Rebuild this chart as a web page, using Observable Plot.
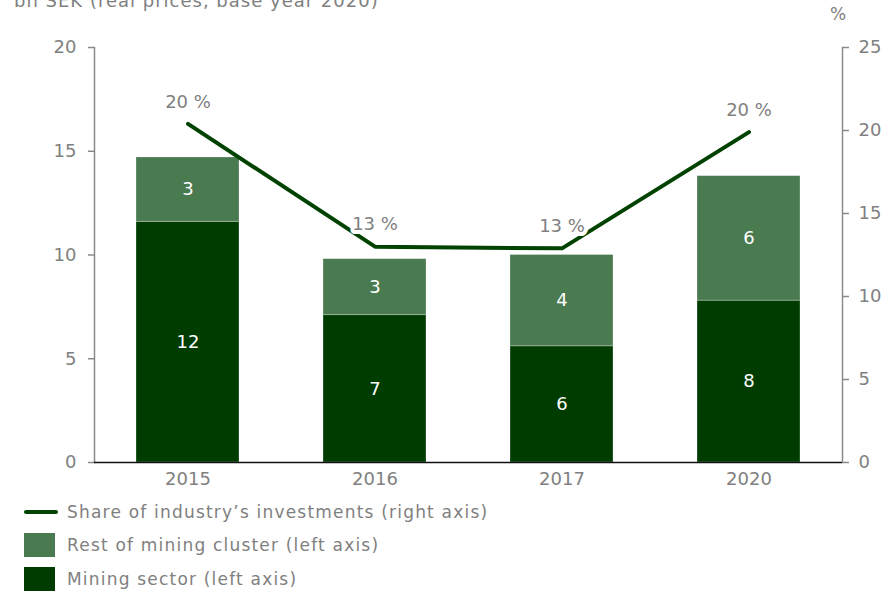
<!DOCTYPE html>
<html><head><meta charset="utf-8">
<script src="https://cdn.jsdelivr.net/npm/d3@7"></script>
<script src="https://cdn.jsdelivr.net/npm/@observablehq/plot@0.6"></script>
<style>
body{margin:0;width:888px;height:593px;position:relative;overflow:hidden;background:#fff;font-family:"DejaVu Sans",sans-serif;color:#808080}
#title{position:absolute;left:14px;top:-10px;font-size:18px;white-space:nowrap;letter-spacing:1px}
#pct{position:absolute;left:830px;top:4px;font-size:17px}
#chart{position:absolute;left:0;top:0}
.leg{position:absolute;left:24px;font-size:17px;display:flex;align-items:center;white-space:nowrap}
.leg span.t{letter-spacing:1.2px}
.sw{display:inline-block;margin-right:12px}
</style></head><body>
<div id="chart"></div>
<div id="title">bn SEK (real prices, base year 2020)</div>
<div id="pct">%</div>
<div id="legend"></div>
<script>
const years = ["2015", "2016", "2017", "2020"];
const miningSector = [11.6, 7.1, 5.6, 7.8];
const restOfCluster = [3.1, 2.7, 4.4, 6.0];
const shareOfInvestments = [20.4, 13.0, 12.9, 19.9];
const segments = ["Mining sector", "Rest of mining cluster"];
const segmentColors = ["#003c00", "#4a7a50"];
const lineColor = "#004300";
const leftTicks = [0, 5, 10, 15, 20];
const rightTicks = [0, 5, 10, 15, 20, 25];
const legendLabels = ["Share of industry\u2019s investments (right axis)", "Rest of mining cluster (left axis)", "Mining sector (left axis)"];

const ratio = 20 / 25;
const rows = years.flatMap((y, i) => [
  {year: y, segment: segments[0], value: miningSector[i]},
  {year: y, segment: segments[1], value: restOfCluster[i]}
]);
const lineData = years.map((y, i) => ({year: y, share: shareOfInvestments[i]}));

const chart = Plot.plot({
  width: 888, height: 490,
  marginLeft: 94, marginRight: 46, marginTop: 47, marginBottom: 28,
  style: {fontFamily: "DejaVu Sans", fontSize: "18px", color: "#808080", background: "white"},
  x: {domain: years, paddingInner: 0.45, paddingOuter: 0.225, label: null},
  y: {domain: [0, 20], label: null},
  color: {domain: segments, range: segmentColors},
  marks: [
    Plot.axisY(leftTicks, {anchor: "left", tickSize: 6, tickPadding: 12, stroke: "#8a8a8a", strokeWidth: 1.5, label: null}),
    Plot.axisY(rightTicks.map(v => v * ratio), {anchor: "right", tickSize: 6, tickPadding: 10, stroke: "#8a8a8a", strokeWidth: 1.5, tickFormat: d => Math.round(d / ratio), label: null}),
    Plot.frame({anchor: "left", stroke: "#8a8a8a", strokeWidth: 1.5}),
    Plot.frame({anchor: "right", stroke: "#8a8a8a", strokeWidth: 1.5}),
    Plot.axisX({tickSize: 0, tickPadding: 10, label: null}),
    Plot.barY(rows, {x: "year", y: "value", z: "segment", fill: "segment", stroke: "#ffffff", strokeOpacity: 0.35, strokeWidth: 0.8}),
    Plot.text(rows, Plot.stackY({x: "year", y: "value", z: "segment", text: d => Math.round(d.value), fill: "white", fontSize: 18})),
    Plot.ruleY([0], {stroke: "#111", strokeWidth: 1.5}),
    Plot.lineY(lineData, {x: "year", y: d => d.share * ratio, stroke: lineColor, strokeWidth: 4}),
    Plot.text(lineData, {x: "year", y: d => d.share * ratio, text: d => Math.round(d.share) + " %", dy: -22, fill: "#808080", stroke: "white", strokeWidth: 8, fontSize: 18})
  ]
});
document.getElementById("chart").appendChild(chart);

const leg = document.getElementById("legend");
const tops = [500, 533, 567];
legendLabels.forEach((lab, i) => {
  const d = document.createElement("div");
  d.className = "leg";
  d.style.top = tops[i] + "px";
  d.style.height = "24px";
  const sw = document.createElement("span");
  sw.className = "sw";
  if (i === 0) {
    sw.style.width = "34px"; sw.style.height = "4px"; sw.style.background = lineColor; sw.style.borderRadius = "2px"; sw.style.marginRight = "9px";
  } else {
    sw.style.width = "31px"; sw.style.height = "24px"; sw.style.background = segmentColors[i === 1 ? 1 : 0];
  }
  d.appendChild(sw);
  const t = document.createElement("span");
  t.className = "t";
  t.textContent = lab;
  d.appendChild(t);
  leg.appendChild(d);
});
</script>
</body></html>
